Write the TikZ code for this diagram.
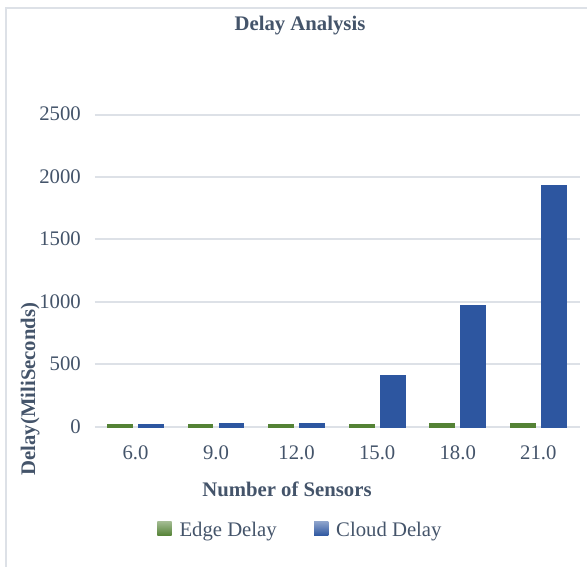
\documentclass[tikz,border=0pt]{standalone}
\usepackage{fontspec}
\setmainfont{Liberation Serif}
\begin{document}
\begin{tikzpicture}[x=1bp, y=-1bp, font=\fontsize{20.8}{24}\selectfont, lbl/.style={inner sep=0pt}]
			\definecolor{edgegreen}{HTML}{548235}
			\definecolor{cloudblue}{HTML}{2D56A0}
			\definecolor{labelgray}{HTML}{44546A}
			\definecolor{gridgray}{HTML}{DDE1E7}
			\useasboundingbox (0,0) rectangle (587,567);
			\draw[gridgray, line width=2bp] (6,567) -- (6,8) -- (587,8);
			\node[lbl, anchor=base, text=labelgray, font=\fontsize{20.8}{24}\selectfont\bfseries] (title) at (300,30.7) {Delay Analysis};
			% grid and y ticks
			\foreach \v [count=\k from 0] in {0,500,...,2500} {
				\draw[gridgray, line width=2bp] (94.5,{426.8-0.1249*\v}) -- (580,{426.8-0.1249*\v});
				\node[lbl, anchor=east, text=labelgray] (tick\k) at (81,{426.3-0.1249*\v}) {\v};
			}
			% bars: edge / cloud
			\foreach \e/\c/\n [count=\i from 0] in {20/20/6.0, 20/28/9.0, 20/28/12.0, 20/417/15.0, 28/977/18.0, 28/1939/21.0} {
				\pgfmathsetmacro{\cx}{135.5+80.56*\i}
				\fill[edgegreen] ({\cx-28.4},427.8) rectangle ({\cx-2.6},{426.8-0.1249*\e});
				\fill[cloudblue] ({\cx+2.6},427.8) rectangle ({\cx+28.4},{426.8-0.1249*\c});
				\node[lbl, text=labelgray] (cat\i) at (\cx,452.5) {\n};
			}
			\node[lbl, anchor=base, text=labelgray, font=\fontsize{20.8}{24}\selectfont\bfseries] (xtitle) at (287,496.6) {Number of Sensors};
			\node[lbl, anchor=base, rotate=90, text=labelgray, font=\fontsize{20.8}{24}\selectfont\bfseries] (ytitle) at (35,389) {Delay(MiliSeconds)};
			% legend
			\shade[top color=edgegreen!55!white, bottom color=edgegreen] (157.3,521.7) rectangle (171.7,535.7);
			\node[lbl, anchor=base west, text=labelgray] (legedge) at (179.3,536.7) {Edge Delay};
			\shade[top color=cloudblue!55!white, bottom color=cloudblue] (314,521.7) rectangle (328.3,535.7);
			\node[lbl, anchor=base west, text=labelgray] (legcloud) at (336,536.7) {Cloud Delay};
		\end{tikzpicture}
\end{document}
